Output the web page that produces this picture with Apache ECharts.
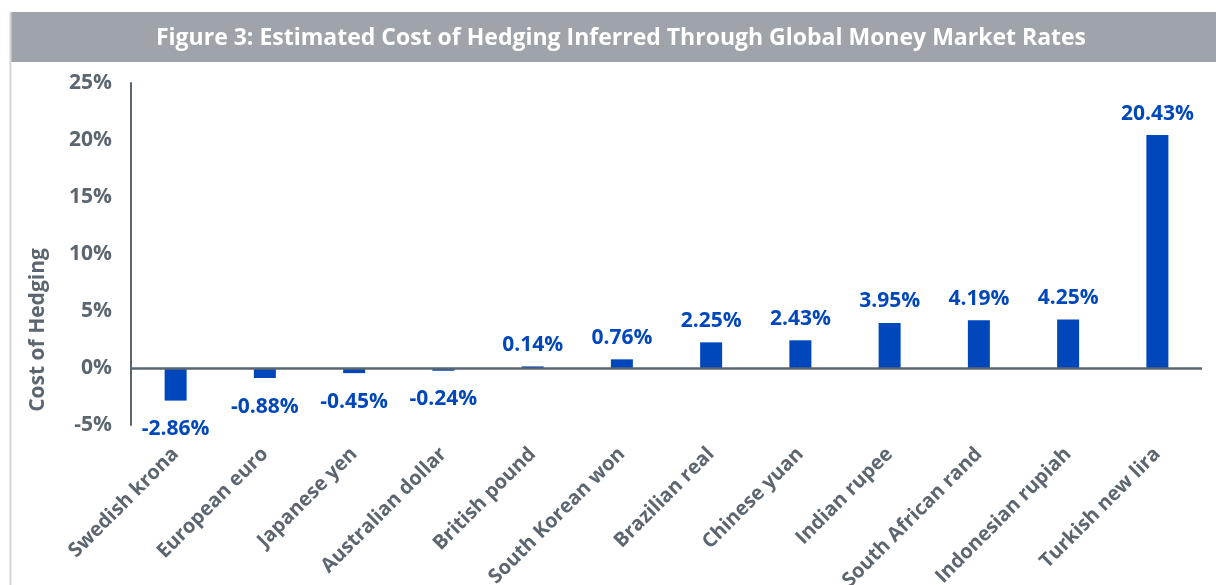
<!DOCTYPE html>
<html>
<head>
<meta charset="utf-8">
<script src="https://cdn.jsdelivr.net/npm/echarts@6/dist/echarts.min.js"></script>
<style>
  html, body { margin: 0; padding: 0; background: #fff; }
  #chart { width: 1216px; height: 585px; }
</style>
</head>
<body>
<div id="chart"></div>
<script>
const currencies = [
  'Swedish krona', 'European euro', 'Japanese yen', 'Australian dollar',
  'British pound', 'South Korean won', 'Brazilian real', 'Chinese yuan',
  'Indian rupee', 'South African rand', 'Indonesian rupiah', 'Turkish new lira'
]
const hedgeCost = [-2.86, -0.88, -0.45, -0.24, 0.14, 0.76, 2.25, 2.43, 3.95, 4.19, 4.25, 20.43]
const yTicks = [-5, 25, 5]

const titleText = 'Figure 3: Estimated Cost of Hedging Inferred Through Global Money Market Rates'
const axisGray = '#5b6670'
const barBlue = '#0047bb'
const font = 'Open Sans'

const chart = echarts.init(document.getElementById('chart'))

chart.setOption({
  animation: false,
  backgroundColor: '#fff',
  graphic: [
    {
      type: 'rect',
      shape: { x: 10, y: 12, width: 1206, height: 50 },
      style: { fill: '#9ea4aa' }
    },
    {
      type: 'line',
      shape: { x1: 10.5, y1: 12, x2: 10.5, y2: 585 },
      style: { stroke: '#d3d6d9', lineWidth: 2 }
    },
    {
      type: 'text',
      x: 621,
      y: 38,
      style: {
        text: titleText,
        fill: '#fff',
        font: 'bold 23px ' + font,
        align: 'center',
        verticalAlign: 'middle'
      }
    },
    {
      type: 'text',
      x: 38,
      y: 330,
      rotation: Math.PI / 2,
      style: {
        text: 'Cost of Hedging',
        fill: axisGray,
        font: 'bold 21px ' + font,
        align: 'center',
        verticalAlign: 'middle'
      }
    }
  ],
  grid: {
    left: 131,
    right: 14,
    top: 83,
    bottom: 160,
    containLabel: false,
    outerBoundsMode: 'none'
  },
  xAxis: {
    type: 'category',
    data: currencies,
    axisLine: { show: false, onZero: false },
    axisTick: { show: false },
    axisLabel: {
      rotate: 45,
      interval: 0,
      margin: 26,
      color: axisGray,
      fontFamily: font,
      fontWeight: 'bold',
      fontSize: 20
    }
  },
  yAxis: {
    type: 'value',
    min: yTicks[0],
    max: yTicks[1],
    interval: yTicks[2],
    splitLine: { show: false },
    axisTick: { show: false },
    axisLine: { show: true, lineStyle: { color: axisGray, width: 2 } },
    axisLabel: {
      margin: 19,
      color: axisGray,
      fontFamily: font,
      fontWeight: 'bold',
      fontSize: 21,
      formatter: v => v + '%'
    }
  },
  series: [
    {
      type: 'bar',
      barWidth: 22,
      itemStyle: { color: barBlue },
      data: hedgeCost.map(v => ({
        value: v,
        label: v < 0 ? { position: 'bottom', distance: 18 } : { position: 'top', distance: 11 }
      })),
      label: {
        show: true,
        color: barBlue,
        fontFamily: font,
        fontWeight: 'bold',
        fontSize: 21,
        formatter: p => p.value.toFixed(2) + '%'
      },
      markLine: {
        silent: true,
        symbol: 'none',
        label: { show: false },
        lineStyle: { color: axisGray, width: 2.5, type: 'solid' },
        data: [{ yAxis: 0 }]
      }
    }
  ]
})
</script>
</body>
</html>
